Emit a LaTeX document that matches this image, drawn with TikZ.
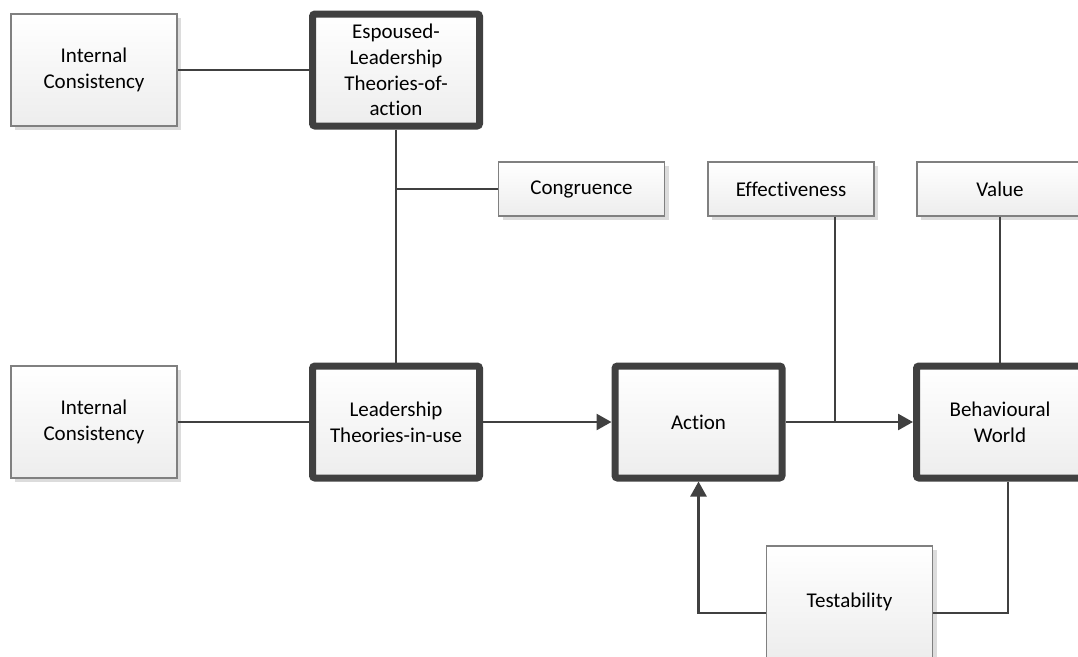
\documentclass[tikz,border=0pt]{standalone}
\usepackage{fontspec}
\setmainfont{Carlito}[Ligatures=NoCommon]
\usetikzlibrary{arrows.meta,shadows}
\definecolor{edge}{HTML}{404040}
\definecolor{thinedge}{HTML}{808080}
\definecolor{shade}{HTML}{DCDCDC}
\definecolor{boxbot}{HTML}{EDEDED}
\begin{document}
\begin{tikzpicture}[x=1pt,y=-1pt,
  every node/.style={font=\fontsize{21}{25.6}\selectfont, align=center},
  thinbox/.style={draw=thinedge, line width=1.3pt, top color=white, bottom color=boxbot,
    minimum width=166pt, minimum height=112pt, inner sep=0pt,
    drop shadow={shadow xshift=4pt, shadow yshift=-4pt, fill=shade, opacity=1}},
  smallbox/.style={thinbox, minimum height=54pt},
  keybox/.style={draw=edge, line width=7pt, rounded corners=2.5pt, top color=white, bottom color=boxbot,
    minimum width=167pt, minimum height=112pt, inner sep=0pt},
  link/.style={draw=edge, line width=2.6pt},
  flow/.style={link, -{Triangle[length=15pt,width=16pt]}}]
\useasboundingbox (0,0) rectangle (1078,656);

% boxes
\node[thinbox] (ic1) at (94,70) {Internal\\Consistency};
\node[keybox] (esp) at (396,70) {Espoused-\\Leadership\\Theories-of-\\action};
\node[smallbox] (cong) at (581.5,189) {Congruence};
\node[smallbox] (eff) at (791,189) {Effectiveness};
\node[smallbox] (val) at (1000,189) {Value};
\node[thinbox] (ic2) at (94,422) {Internal\\Consistency};
\node[keybox] (lead) at (396,422) {Leadership\\Theories-in-use};
\node[keybox] (act) at (698.5,422) {Action};
\node[keybox] (bw) at (1000,422) {Behavioural\\World};
\node[thinbox] (test) at (849.5,602) {Testability};

% junction points on the connectors
\coordinate (jc) at (396,189);
\coordinate (je) at (835,422);

% connectors
\draw[link] (ic1.east) -- (esp.west);
\draw[link] (esp.south) -- (lead.north);
\draw[link] (jc) -- (cong.west);
\draw[link] (ic2.east) -- (lead.west);
\draw[flow] (lead.east) -- (act.west);
\draw[flow] (act.east) -- (bw.west);
\draw[link] (je |- eff.south) -- (je);
\draw[link] (val.south) -- (bw.north);
\draw[link] ([xshift=8pt]bw.south) |- ([yshift=-11pt]test.east);
\draw[flow] ([yshift=-11pt]test.west) -| (act.south);
\end{tikzpicture}
\end{document}
